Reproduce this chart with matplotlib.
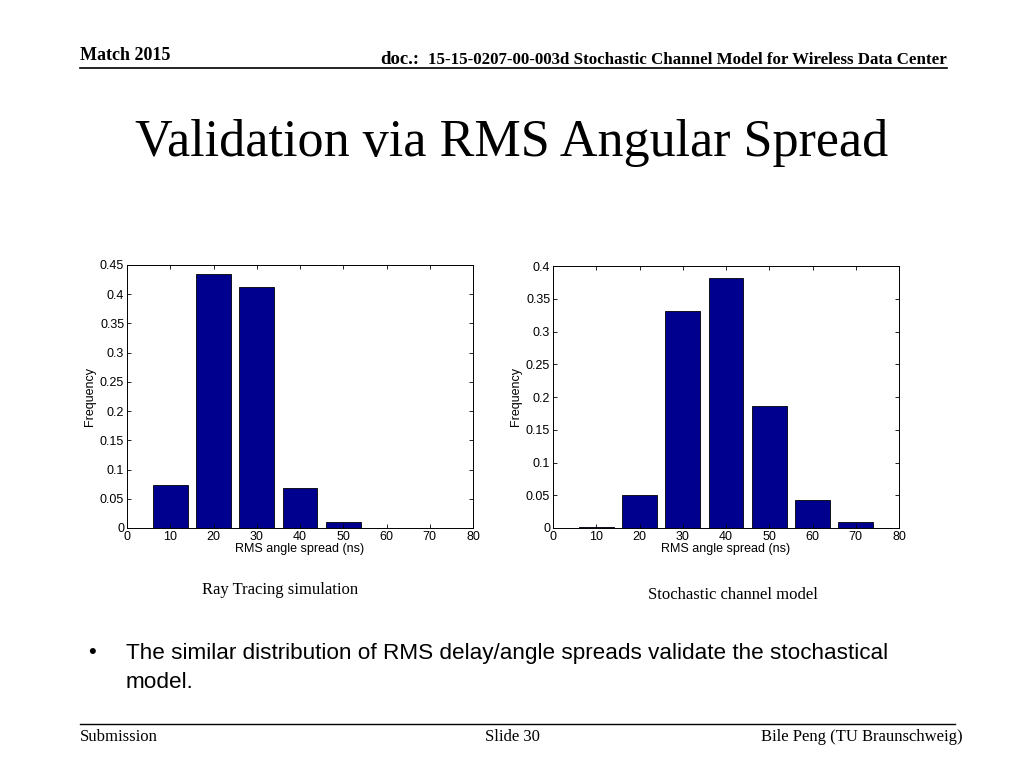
import matplotlib
matplotlib.use("Agg")
import matplotlib.pyplot as plt
from matplotlib.lines import Line2D

bins = [10, 20, 30, 40, 50, 60, 70]
ray_tracing = [0.074, 0.434, 0.413, 0.069, 0.011, 0.0, 0.0]
stochastic = [0.001, 0.050, 0.331, 0.381, 0.187, 0.042, 0.009]
left_yticks = [0, 0.05, 0.1, 0.15, 0.2, 0.25, 0.3, 0.35, 0.4, 0.45]
right_yticks = [0, 0.05, 0.1, 0.15, 0.2, 0.25, 0.3, 0.35, 0.4]
xticks = [0, 10, 20, 30, 40, 50, 60, 70, 80]

W, H = 1024, 768
fig = plt.figure(figsize=(10.24, 7.68), dpi=100)
fig.patch.set_facecolor("white")

serif = ["Liberation Serif", "DejaVu Serif"]
sans = ["Liberation Sans", "DejaVu Sans"]

def fx(px):
    return px / W

def fy(py):
    return 1 - py / H

bar_color = "#00008F"

def make_axes(x0, x1, y0, y1, values, yticks, ymax):
    ax = fig.add_axes([fx(x0), fy(y1), fx(x1) - fx(x0), (y1 - y0) / H])
    ax.bar(bins, values, width=8, color=bar_color, edgecolor="black", linewidth=0.6)
    ax.set_xlim(0, 80)
    ax.set_ylim(0, ymax)
    ax.set_xticks(xticks)
    ax.set_yticks(yticks)
    ax.set_xticklabels([str(t) for t in xticks], family=sans, fontsize=9)
    ax.set_yticklabels([f"{t:g}" for t in yticks], family=sans, fontsize=9)
    ax.tick_params(direction="in", top=True, right=True, length=3, width=0.6, pad=2)
    for s in ax.spines.values():
        s.set_linewidth(0.7)
    ax.set_xlabel("RMS angle spread (ns)", family=sans, fontsize=9, labelpad=0)
    ax.set_ylabel("Frequency", family=sans, fontsize=9, labelpad=3)
    return ax

make_axes(127, 473, 265, 528, ray_tracing, left_yticks, 0.45)
make_axes(553, 899, 266, 528, stochastic, right_yticks, 0.4)

# Header
fig.text(fx(80), fy(60), "Match 2015", family=serif, fontsize=13, fontweight="bold", ha="left", va="baseline")
fig.text(fx(947), fy(64), "15-15-0207-00-003d Stochastic Channel Model for Wireless Data Center",
         family=serif, fontsize=12.2, fontweight="bold", ha="right", va="baseline")
fig.text(fx(419), fy(64), "doc.:", family=serif, fontsize=13.5, fontweight="bold", ha="right", va="baseline")
fig.add_artist(Line2D([fx(80), fx(947)], [fy(68), fy(68)], color="black", linewidth=1.2))

# Title
fig.text(fx(512), fy(156), "Validation via RMS Angular Spread", family=serif, fontsize=37.5,
         ha="center", va="baseline")

# Captions
fig.text(fx(280), fy(590), "Ray Tracing simulation", family=serif, fontsize=12, ha="center", va="center")
fig.text(fx(733), fy(595), "Stochastic channel model", family=serif, fontsize=12, ha="center", va="center")

# Bullet text
fig.text(fx(88), fy(653), "\u2022", family=sans, fontsize=16, ha="left", va="center")
fig.text(fx(126), fy(653), "The similar distribution of RMS delay/angle spreads validate the stochastical",
         family=sans, fontsize=16.2, ha="left", va="center")
fig.text(fx(126), fy(682), "model.", family=sans, fontsize=16.2, ha="left", va="center")

# Footer
fig.add_artist(Line2D([fx(80), fx(955)], [fy(724), fy(724)], color="black", linewidth=1.0))
fig.text(fx(80), fy(737), "Submission", family=serif, fontsize=12, ha="left", va="center")
fig.text(fx(512), fy(737), "Slide 30", family=serif, fontsize=12, ha="center", va="center")
fig.text(fx(963), fy(737), "Bile Peng (TU Braunschweig)", family=serif, fontsize=12, ha="right", va="center")

fig.savefig("out.png", dpi=100, facecolor="white")
